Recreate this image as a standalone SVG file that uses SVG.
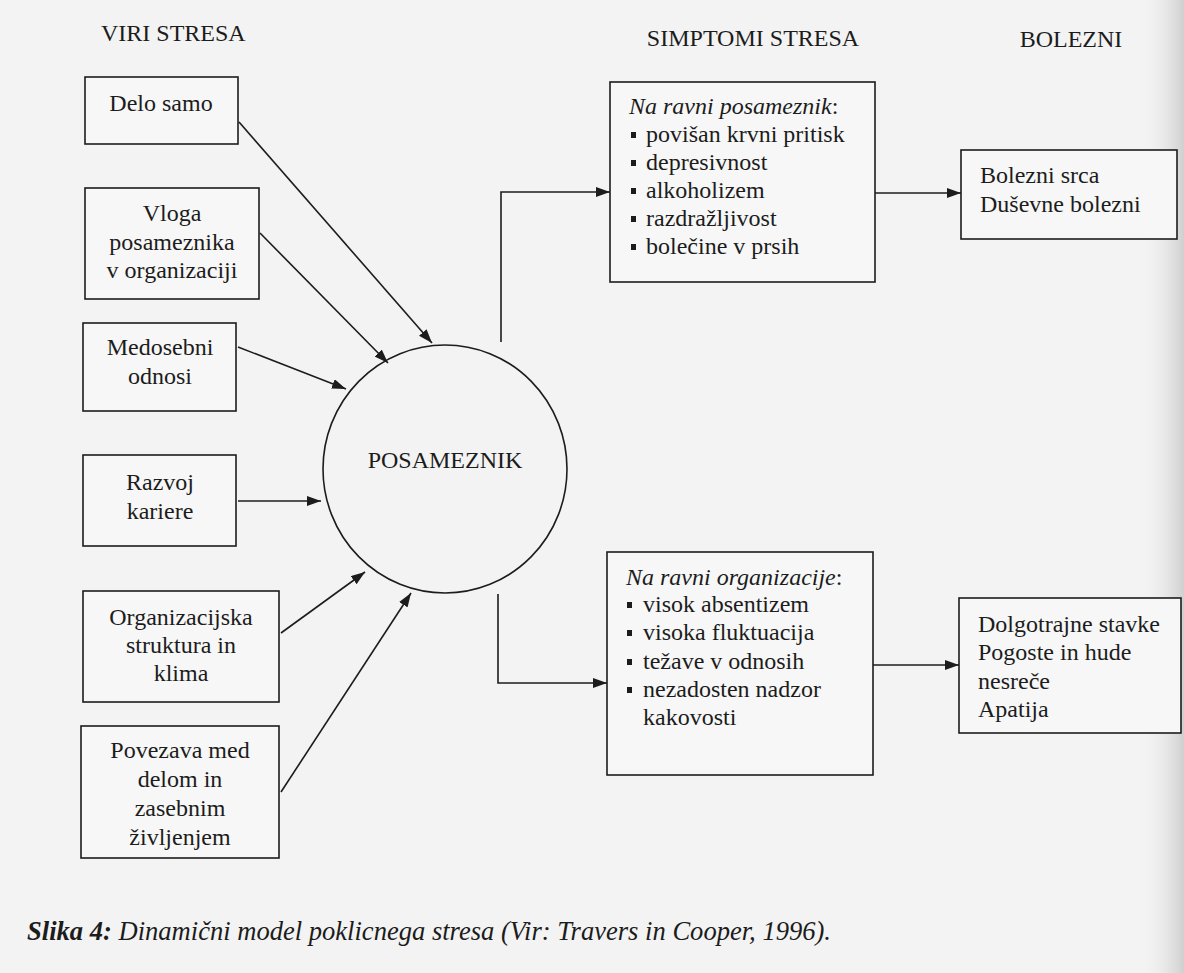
<svg xmlns="http://www.w3.org/2000/svg" width="1184" height="973" viewBox="0 0 1184 973">
  <style>
    .t { font-family: "Liberation Serif", "Times New Roman", serif; font-size: 24px; fill: #1c1c1c; }
    .c { text-anchor: middle; }
    .i { font-style: italic; }
    .b { font-weight: bold; }
    .cap { font-size: 27px; }
    .box { fill: #f7f7f7; stroke: #1c1c1c; stroke-width: 1.6; }
    .ln { fill: none; stroke: #1c1c1c; stroke-width: 1.6; }
    .blt { fill: #1c1c1c; }
  </style>
  <defs>
    <marker id="ah" markerUnits="userSpaceOnUse" markerWidth="15" markerHeight="11" refX="14" refY="5" orient="auto">
      <path d="M0,0 L14,5 L0,10 z" fill="#1c1c1c"/>
    </marker>
    <linearGradient id="edge" x1="0" y1="0" x2="1" y2="0">
      <stop offset="0" stop-color="#f3f3f3" stop-opacity="0"/>
      <stop offset="1" stop-color="#cfcfcf"/>
    </linearGradient>
  </defs>

  <!-- page -->
  <rect x="0" y="0" width="1184" height="973" fill="#f3f3f3"/>
  <rect x="1140" y="0" width="44" height="973" fill="url(#edge)"/>

  <!-- column headings -->
  <text class="t" x="101" y="41">VIRI STRESA</text>
  <text class="t c" x="753" y="46">SIMPTOMI STRESA</text>
  <text class="t c" x="1071" y="47">BOLEZNI</text>

  <!-- connectors -->
  <g id="connectors">
    <line class="ln" x1="239" y1="122" x2="432" y2="343" marker-end="url(#ah)"/>
    <line class="ln" x1="260" y1="233" x2="388" y2="363" marker-end="url(#ah)"/>
    <line class="ln" x1="238" y1="347" x2="346" y2="389" marker-end="url(#ah)"/>
    <line class="ln" x1="238" y1="501" x2="321" y2="501" marker-end="url(#ah)"/>
    <line class="ln" x1="281" y1="633" x2="365" y2="572" marker-end="url(#ah)"/>
    <line class="ln" x1="281" y1="792" x2="411" y2="593" marker-end="url(#ah)"/>
    <polyline class="ln" points="501,342 501,192 610,192" marker-end="url(#ah)"/>
    <polyline class="ln" points="498,594 498,683 607,683" marker-end="url(#ah)"/>
    <line class="ln" x1="875" y1="193" x2="961" y2="193" marker-end="url(#ah)"/>
    <line class="ln" x1="873" y1="665" x2="959" y2="665" marker-end="url(#ah)"/>
  </g>

  <!-- sources of stress -->
  <g id="delo-samo">
    <rect class="box" x="85" y="77" width="153" height="67"/>
    <text class="t c" x="161" y="111">Delo samo</text>
  </g>
  <g id="vloga">
    <rect class="box" x="85" y="188" width="174" height="111"/>
    <text class="t c" x="172" y="221">Vloga</text>
    <text class="t c" x="172" y="250">posameznika</text>
    <text class="t c" x="172" y="278">v organizaciji</text>
  </g>
  <g id="medosebni">
    <rect class="box" x="83" y="323" width="153" height="88"/>
    <text class="t c" x="160" y="355">Medosebni</text>
    <text class="t c" x="160" y="384">odnosi</text>
  </g>
  <g id="razvoj">
    <rect class="box" x="83" y="455" width="153" height="91"/>
    <text class="t c" x="160" y="490">Razvoj</text>
    <text class="t c" x="160" y="519">kariere</text>
  </g>
  <g id="organizacijska">
    <rect class="box" x="83" y="591" width="196" height="111"/>
    <text class="t c" x="181" y="625">Organizacijska</text>
    <text class="t c" x="181" y="653">struktura in</text>
    <text class="t c" x="181" y="681">klima</text>
  </g>
  <g id="povezava">
    <rect class="box" x="81" y="726" width="198" height="132"/>
    <text class="t c" x="180" y="758">Povezava med</text>
    <text class="t c" x="180" y="787">delom in</text>
    <text class="t c" x="180" y="816">zasebnim</text>
    <text class="t c" x="180" y="845">življenjem</text>
  </g>

  <!-- individual -->
  <g id="posameznik">
    <ellipse class="ln" cx="445" cy="469" rx="122" ry="124"/>
    <text class="t c" x="445" y="468">POSAMEZNIK</text>
  </g>

  <!-- symptoms -->
  <g id="simptomi-posameznik">
    <rect class="box" x="610" y="82" width="265" height="200"/>
    <text class="t i" x="629" y="114">Na ravni posameznik<tspan font-style="normal">:</tspan></text>
    <rect class="blt" x="631" y="132" width="5" height="6"/>
    <text class="t" x="646" y="142">povišan krvni pritisk</text>
    <rect class="blt" x="631" y="160" width="5" height="6"/>
    <text class="t" x="646" y="170">depresivnost</text>
    <rect class="blt" x="631" y="188" width="5" height="6"/>
    <text class="t" x="646" y="198">alkoholizem</text>
    <rect class="blt" x="631" y="216" width="5" height="6"/>
    <text class="t" x="646" y="226">razdražljivost</text>
    <rect class="blt" x="631" y="244" width="5" height="6"/>
    <text class="t" x="646" y="254">bolečine v prsih</text>
  </g>
  <g id="simptomi-organizacija">
    <rect class="box" x="607" y="552" width="266" height="223"/>
    <text class="t i" x="626" y="585">Na ravni organizacije<tspan font-style="normal">:</tspan></text>
    <rect class="blt" x="627" y="602" width="5" height="6"/>
    <text class="t" x="643" y="612">visok absentizem</text>
    <rect class="blt" x="627" y="630" width="5" height="6"/>
    <text class="t" x="643" y="640">visoka fluktuacija</text>
    <rect class="blt" x="627" y="659" width="5" height="6"/>
    <text class="t" x="643" y="669">težave v odnosih</text>
    <rect class="blt" x="627" y="687" width="5" height="6"/>
    <text class="t" x="643" y="697">nezadosten nadzor</text>
    <text class="t" x="643" y="725">kakovosti</text>
  </g>

  <!-- outcomes -->
  <g id="bolezni">
    <rect class="box" x="961" y="150" width="216" height="89"/>
    <text class="t" x="980" y="183">Bolezni srca</text>
    <text class="t" x="980" y="212">Duševne bolezni</text>
  </g>
  <g id="posledice">
    <rect class="box" x="959" y="598" width="222" height="135"/>
    <text class="t" x="978" y="632">Dolgotrajne stavke</text>
    <text class="t" x="978" y="660">Pogoste in hude</text>
    <text class="t" x="978" y="689">nesreče</text>
    <text class="t" x="978" y="717">Apatija</text>
  </g>

  <!-- caption -->
  <text class="t i cap" x="27" y="940" textLength="804" lengthAdjust="spacingAndGlyphs"><tspan class="b">Slika 4:</tspan> Dinamični model poklicnega stresa (Vir: Travers in Cooper, 1996).</text>
</svg>
